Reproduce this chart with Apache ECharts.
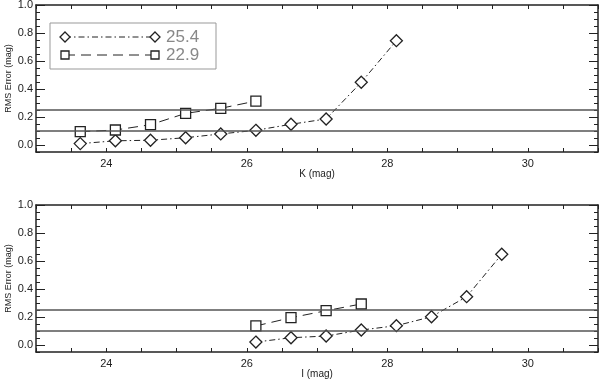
<!DOCTYPE html>
<html>
<head>
<meta charset="utf-8">
<script src="https://cdn.jsdelivr.net/npm/echarts@6/dist/echarts.min.js"></script>
<style>
  html, body { margin: 0; padding: 0; background: #fff; }
  #chart { width: 600px; height: 382px; }
</style>
</head>
<body>
<div id="chart"></div>
<script>
// K band panel
const kDiamondX = [23.63, 24.13, 24.63, 25.13, 25.63, 26.13, 26.63, 27.13, 27.63, 28.13];
const kDiamondY = [0.01, 0.03, 0.034, 0.052, 0.079, 0.105, 0.148, 0.186, 0.448, 0.745];
const kSquareX = [23.63, 24.13, 24.63, 25.13, 25.63, 26.13];
const kSquareY = [0.095, 0.107, 0.145, 0.226, 0.262, 0.314];
// I band panel
const iDiamondX = [26.13, 26.63, 27.13, 27.63, 28.13, 28.63, 29.13, 29.63];
const iDiamondY = [0.021, 0.052, 0.064, 0.107, 0.138, 0.202, 0.345, 0.648];
const iSquareX = [26.13, 26.63, 27.13, 27.63];
const iSquareY = [0.136, 0.195, 0.245, 0.293];

const limitLines = [0.1, 0.25];
const legendNames = ['25.4', '22.9'];
const xTickLabels = [24, 26, 28, 30];
const yTickLabels = [0.0, 0.2, 0.4, 0.6, 0.8, 1.0];
const xNames = ['K (mag)', 'I (mag)'];
const yName = 'RMS Error (mag)';

const font = 'Liberation Sans';
const ink = '#222';
const dashDot = [6, 3, 1.5, 3];
const longDash = [10, 6];
const diamondPath = 'path://M0,-1L1,0L0,1L-1,0Z';

const zip = (xs, ys) => xs.map((x, i) => [x, ys[i]]);

const panels = [
  { top: 5, diamonds: zip(kDiamondX, kDiamondY), squares: zip(kSquareX, kSquareY) },
  { top: 205, diamonds: zip(iDiamondX, iDiamondY), squares: zip(iSquareX, iSquareY) }
];

const grids = [], xAxes = [], yAxes = [], series = [];

panels.forEach((p, gi) => {
  grids.push({ left: 36, top: p.top, width: 562, height: 147, containLabel: false, outerBoundsMode: 'none' });

  const axisLine = { onZero: false, lineStyle: { color: ink, width: 1.5 } };
  // bottom x axis with labels
  xAxes.push({
    gridIndex: gi, type: 'value', position: 'bottom', min: 23, max: 31, interval: 0.5,
    name: xNames[gi], nameLocation: 'middle', nameGap: 17, nameMoveOverlap: false,
    nameTextStyle: { fontFamily: font, fontSize: 10, color: ink },
    axisLine: axisLine,
    axisTick: { inside: true, length: 4, lineStyle: { color: ink } },
    axisLabel: {
      margin: 6, fontFamily: font, fontSize: 11, color: ink,
      formatter: v => xTickLabels.indexOf(v) >= 0 ? String(v) : ''
    },
    splitLine: { show: false }
  });
  // top x axis (ticks only)
  xAxes.push({
    gridIndex: gi, type: 'value', position: 'top', min: 23, max: 31, interval: 0.5,
    axisLine: axisLine,
    axisTick: { inside: true, length: 4, lineStyle: { color: ink } },
    axisLabel: { show: false },
    splitLine: { show: false }
  });

  ['left', 'right'].forEach(pos => {
    // major ticks (+ labels on left)
    yAxes.push({
      gridIndex: gi, type: 'value', position: pos, min: -0.05, max: 1.0,
      name: pos === 'left' ? yName : '', nameLocation: 'middle', nameGap: 23, nameMoveOverlap: false,
      nameTextStyle: { fontFamily: font, fontSize: 9, color: ink },
      axisLine: axisLine,
      axisTick: { inside: true, length: 9, customValues: yTickLabels, lineStyle: { color: ink } },
      axisLabel: {
        show: pos === 'left', margin: 3, fontFamily: font, fontSize: 11, color: ink,
        customValues: yTickLabels, formatter: v => v.toFixed(1)
      },
      splitLine: { show: false }
    });
    // minor ticks
    yAxes.push({
      gridIndex: gi, type: 'value', position: pos, min: -0.05, max: 1.0, interval: 0.05,
      axisLine: { show: false, onZero: false },
      axisTick: { inside: true, length: 4, lineStyle: { color: ink } },
      axisLabel: { show: false },
      splitLine: { show: false }
    });
  });

  series.push({
    name: legendNames[0], type: 'line', xAxisIndex: gi * 2, yAxisIndex: gi * 4,
    data: p.diamonds, symbol: diamondPath, symbolSize: 12, showAllSymbol: true,
    lineStyle: { color: ink, width: 1, type: dashDot },
    itemStyle: { color: '#fff', borderColor: ink, borderWidth: 1.3 },
    markLine: {
      silent: true, symbol: 'none', label: { show: false },
      lineStyle: { color: '#555', width: 1.5, type: 'solid' },
      data: limitLines.map(v => ({ yAxis: v }))
    },
    z: 3
  });
  series.push({
    name: legendNames[1], type: 'line', xAxisIndex: gi * 2, yAxisIndex: gi * 4,
    data: p.squares, symbol: 'rect', symbolSize: 10, showAllSymbol: true,
    lineStyle: { color: ink, width: 1, type: longDash },
    itemStyle: { color: '#fff', borderColor: ink, borderWidth: 1.3 },
    z: 3
  });
});

// legend box drawn by hand (symbols at both ends of the line)
const legendGraphic = [
  { type: 'rect', shape: { x: 50, y: 23, width: 166, height: 46 }, style: { fill: '#fff', stroke: '#999', lineWidth: 1 }, z: 10 },
  { type: 'line', shape: { x1: 65, y1: 37, x2: 155, y2: 37 }, style: { stroke: ink, lineWidth: 1, lineDash: dashDot }, z: 11 },
  { type: 'polygon', shape: { points: [[65, 32], [70, 37], [65, 42], [60, 37]] }, style: { fill: '#fff', stroke: ink, lineWidth: 1.3 }, z: 12 },
  { type: 'polygon', shape: { points: [[155, 32], [160, 37], [155, 42], [150, 37]] }, style: { fill: '#fff', stroke: ink, lineWidth: 1.3 }, z: 12 },
  { type: 'text', x: 166, y: 37, style: { text: legendNames[0], fontFamily: font, fontSize: 17, fill: '#888', verticalAlign: 'middle' }, z: 12 },
  { type: 'line', shape: { x1: 65, y1: 55, x2: 155, y2: 55 }, style: { stroke: ink, lineWidth: 1, lineDash: longDash }, z: 11 },
  { type: 'rect', shape: { x: 61, y: 51, width: 8, height: 8 }, style: { fill: '#fff', stroke: ink, lineWidth: 1.3 }, z: 12 },
  { type: 'rect', shape: { x: 151, y: 51, width: 8, height: 8 }, style: { fill: '#fff', stroke: ink, lineWidth: 1.3 }, z: 12 },
  { type: 'text', x: 166, y: 55, style: { text: legendNames[1], fontFamily: font, fontSize: 17, fill: '#888', verticalAlign: 'middle' }, z: 12 }
];

const chart = echarts.init(document.getElementById('chart'));
chart.setOption({
  animation: false,
  backgroundColor: '#fff',
  grid: grids,
  xAxis: xAxes,
  yAxis: yAxes,
  series: series,
  graphic: legendGraphic
});
</script>
</body>
</html>
